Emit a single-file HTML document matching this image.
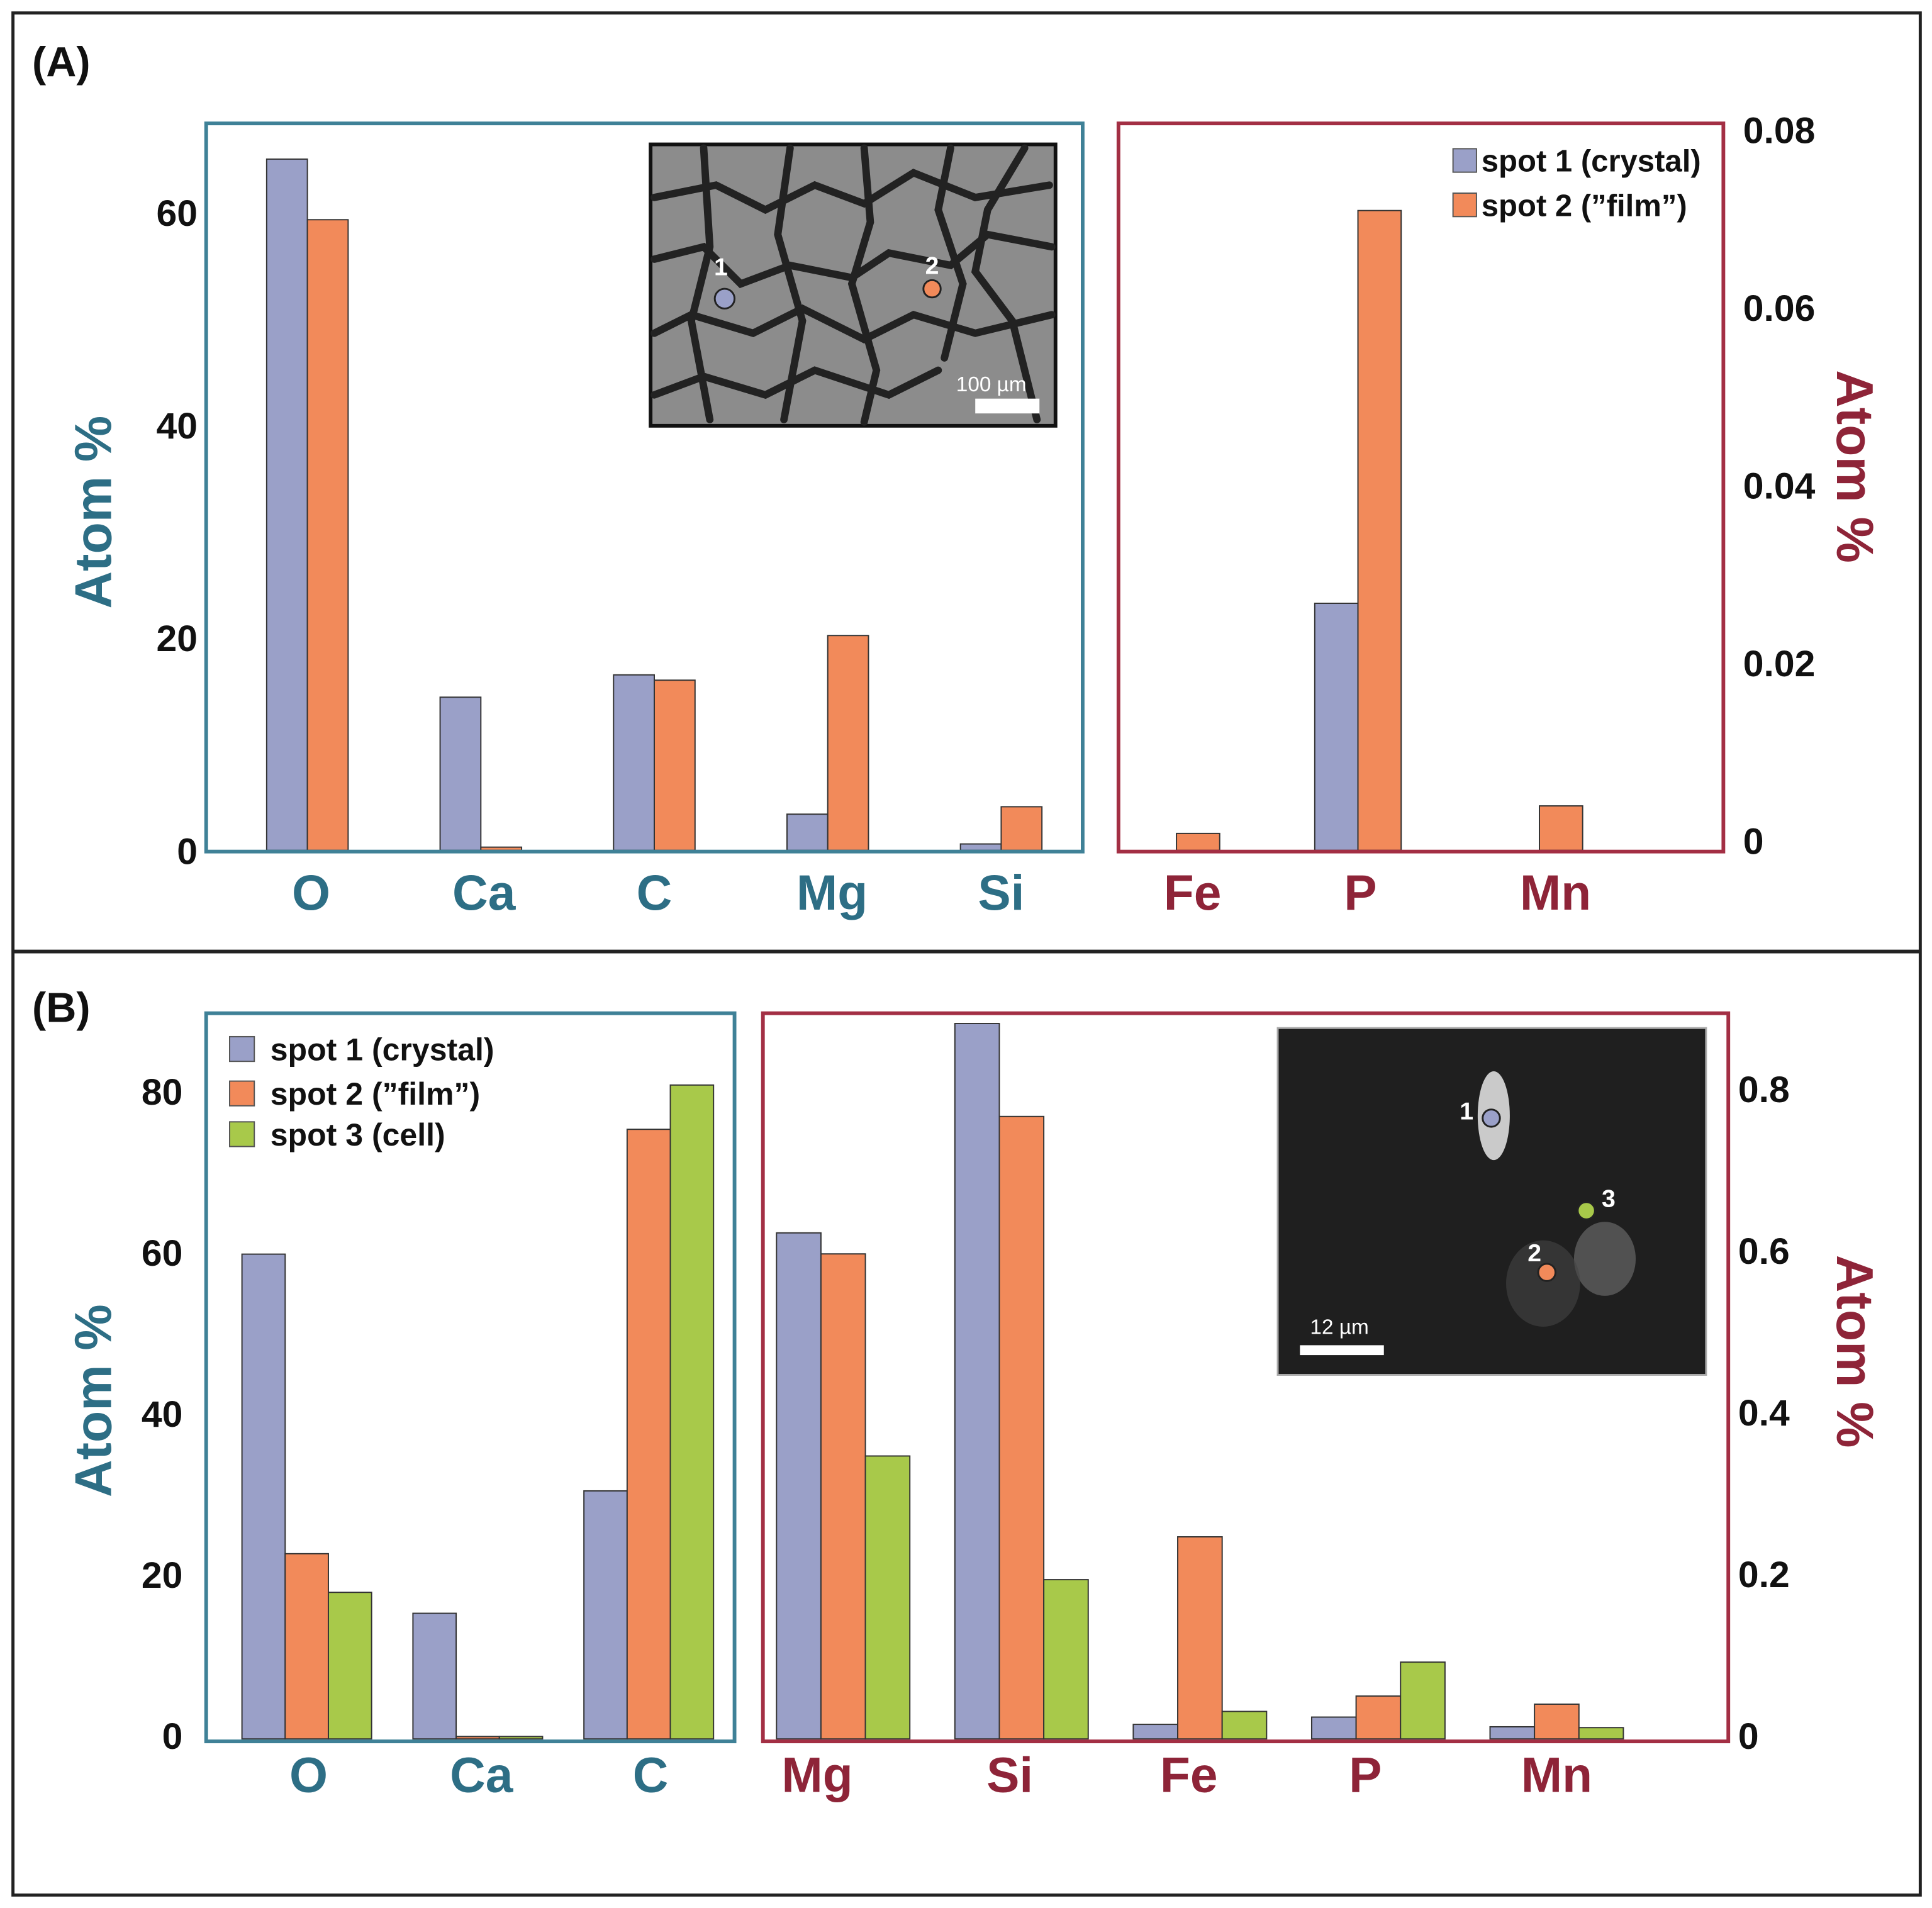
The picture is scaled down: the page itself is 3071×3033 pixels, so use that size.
<!DOCTYPE html>
<html><head><meta charset="utf-8"><style>
html,body{margin:0;padding:0;background:#fff;}
svg{display:block;font-family:"Liberation Sans",sans-serif;}
</style></head><body>
<svg id="fig" width="3071" height="3033" viewBox="0 0 1565 1546" preserveAspectRatio="none" xmlns="http://www.w3.org/2000/svg">
<rect x="0" y="0" width="1565" height="1546" fill="#fff"/>
<rect x="10.5" y="10.5" width="1545" height="1525" fill="none" stroke="#222" stroke-width="2.5"/>
<line x1="10" y1="771" x2="1556" y2="771" stroke="#222" stroke-width="3"/>
<text x="26" y="62" font-size="34" font-weight="bold" fill="#111">(A)</text>
<text x="26" y="828" font-size="34" font-weight="bold" fill="#111">(B)</text>

<!-- inset A -->
<g>
<rect x="527" y="117" width="328" height="228" fill="#8c8c8c" stroke="#111" stroke-width="3"/>
<g stroke="#222" stroke-width="6" fill="none" stroke-linecap="round">
<path d="M530 160 L580 150 L620 170 L660 150 L700 165 L740 140 L790 160 L850 150"/>
<path d="M530 210 L570 200 L600 230 L640 215 L690 225 L720 205 L770 215 L800 190 L852 200"/>
<path d="M530 270 L560 255 L610 270 L650 250 L700 275 L740 255 L790 270 L852 255"/>
<path d="M530 320 L570 305 L620 320 L660 300 L720 320 L760 300"/>
<path d="M570 120 L575 200 L560 260 L575 340"/>
<path d="M640 120 L630 190 L650 260 L635 340"/>
<path d="M700 120 L705 180 L690 230 L710 300 L700 342"/>
<path d="M770 120 L760 170 L780 230 L765 290"/>
<path d="M830 120 L800 170 L790 220 L820 260 L840 340"/>
</g>
<circle cx="587" cy="242" r="8" fill="#9aa0c8" stroke="#222" stroke-width="1.5"/>
<text x="584" y="223" font-size="20" font-weight="bold" fill="#fff" text-anchor="middle">1</text>
<circle cx="755" cy="234" r="7" fill="#f28a5a" stroke="#222" stroke-width="1.5"/>
<text x="755" y="222" font-size="20" font-weight="bold" fill="#fff" text-anchor="middle">2</text>
<rect x="790" y="323" width="52" height="12" fill="#fff"/>
<text x="803" y="317" font-size="17" fill="#fff" text-anchor="middle">100 µm</text>
</g>

<!-- inset B -->
<g>
<rect x="1035" y="833" width="347" height="281" fill="#1f1f1f" stroke="#aaa" stroke-width="1.5"/>
<ellipse cx="1210" cy="904" rx="13" ry="36" fill="#ddd" opacity="0.9"/>
<ellipse cx="1300" cy="1020" rx="25" ry="30" fill="#666" opacity="0.7"/>
<ellipse cx="1250" cy="1040" rx="30" ry="35" fill="#444" opacity="0.6"/>
<circle cx="1208" cy="906" r="7" fill="#9aa0c8" stroke="#222" stroke-width="1.5"/>
<text x="1188" y="907" font-size="20" font-weight="bold" fill="#fff" text-anchor="middle">1</text>
<circle cx="1285" cy="981" r="7" fill="#a8c94a" stroke="#222" stroke-width="1.5"/>
<text x="1303" y="978" font-size="20" font-weight="bold" fill="#fff" text-anchor="middle">3</text>
<circle cx="1253" cy="1031" r="7" fill="#f28a5a" stroke="#222" stroke-width="1.5"/>
<text x="1243" y="1022" font-size="20" font-weight="bold" fill="#fff" text-anchor="middle">2</text>
<rect x="1053" y="1090" width="68" height="8" fill="#fff"/>
<text x="1085" y="1081" font-size="17" fill="#fff" text-anchor="middle">12 µm</text>
</g>
<g id="dyn"></g>
</svg>
<script>
// Panel A data
const aLeftCats = ["O","Ca","C","Mg","Si"];
const aLeftSpot1 = [65.0, 14.4, 16.5, 3.4, 0.6];
const aLeftSpot2 = [59.3, 0.3, 16.0, 20.2, 4.1];
const aLeftTicks = [0, 20, 40, 60];
const aRightCats = ["Fe","P","Mn"];
const aRightSpot1 = [0, 0.0278, 0];
const aRightSpot2 = [0.0019, 0.072, 0.005];
const aRightTicks = [0, 0.02, 0.04, 0.06, 0.08];
const aRightTickLabels = ["0","0.02","0.04","0.06","0.08"];
// Panel B data
const bLeftCats = ["O","Ca","C"];
const bLeftSpot1 = [60.2, 15.6, 30.8];
const bLeftSpot2 = [23.0, 0.3, 75.7];
const bLeftSpot3 = [18.2, 0.3, 81.2];
const bLeftTicks = [0, 20, 40, 60, 80];
const bRightCats = ["Mg","Si","Fe","P","Mn"];
const bRightSpot1 = [0.626, 0.885, 0.018, 0.027, 0.015];
const bRightSpot2 = [0.60, 0.77, 0.25, 0.053, 0.043];
const bRightSpot3 = [0.35, 0.197, 0.034, 0.095, 0.014];
const bRightTicks = [0, 0.2, 0.4, 0.6, 0.8];
const bRightTickLabels = ["0","0.2","0.4","0.6","0.8"];

const NS = "http://www.w3.org/2000/svg";
const root = document.getElementById("dyn");
const COLORS = ["#9aa0c8","#f28a5a","#a8c94a"];
const TEAL = "#2d6e85", MAROON = "#8e2438";
function mk(tag, attrs, parent){ const e=document.createElementNS(NS,tag); for(const k in attrs) e.setAttribute(k,attrs[k]); (parent||root).appendChild(e); return e; }
function lin(d0,d1,r0,r1){ return v => r0 + (v-d0)/(d1-d0)*(r1-r0); }

function bars(cats, series, x0, spacing, bw, yScale, base, prefix){
  cats.forEach((c,i)=>{
    const n=series.length;
    series.forEach((s,j)=>{
      const v=s[i]; if(v<=0) return;
      const x=x0+i*spacing-(n*bw)/2+j*bw;
      const y=yScale(v);
      const r=mk("rect",{x:x,y:y,width:bw,height:base-y,fill:COLORS[j],stroke:"#333","stroke-width":1});
      
      
    });
  });
}
function catLabels(cats, xs, y, color, prefix){
  cats.forEach((c,i)=>{
    const t=mk("text",{x:xs[i],y:y,"font-size":40,"font-weight":"bold",fill:color,"text-anchor":"middle"});
    t.textContent=c;
    
    
  });
}
function ticks(vals, labels, yScale, x, anchor, prefix){
  vals.forEach((v,i)=>{
    const t=mk("text",{x:x,y:yScale(v)+11,"font-size":30,"font-weight":"bold",fill:"#111","text-anchor":anchor});
    t.textContent=labels[i];
    
    
  });
}
function box(x,y,w,h,color,name){
  const r=mk("rect",{x:x,y:y,width:w,height:h,fill:"none",stroke:color,"stroke-width":3});
  
  
}
function axisTitle(x,y,rot,color,name){
  const t=mk("text",{x:x,y:y,"font-size":42,"font-weight":"bold",fill:color,"text-anchor":"middle",transform:`rotate(${rot} ${x} ${y})`});
  t.textContent="Atom %";
  
  
}
function legend(items, x, ys, fs, sq, prefix){
  items.forEach((s,i)=>{
    const r=mk("rect",{x:x,y:ys[i]-sq/2,width:sq,height:sq,fill:COLORS[i],stroke:"#555","stroke-width":1});
    
    
    const t=mk("text",{x:x+sq+(prefix==="a"?4:13),y:ys[i]+fs*0.36,"font-size":fs,"font-weight":"bold",fill:"#111"});
    t.textContent=s;
    
    
  });
}

// Panel A
const aBase=689;
const aYL=lin(0,60,aBase,172);
const aYR=lin(0,0.08,aBase,113);
bars(aLeftCats,[aLeftSpot1,aLeftSpot2],249,140.5,33,aYL,aBase,"a-left");
bars(aRightCats,[aRightSpot1,aRightSpot2],953,147,35,aYR,aBase,"a-right");
box(167,100,710,590,"#3f8197","a-left-plot-frame");
box(906,100,490,590,"#a32f44","a-right-plot-frame");
ticks(aLeftTicks,aLeftTicks.map(String),aYL,160,"end","a-left-y");
ticks(aRightTicks,aRightTickLabels,v=>aYR(v)-8,1412,"start","a-right-y");
catLabels(aLeftCats,[252,392,530,674,811],737,TEAL,"a");
catLabels(aRightCats,[966,1102,1260],737,MAROON,"a");
axisTitle(90,415,-90,TEAL,"a-left-y-axis-title");
axisTitle(1488,378,90,MAROON,"a-right-y-axis-title");
legend(["spot 1 (crystal)","spot 2 (\u201dfilm\u201d)"],1177,[130,166],25,19,"a");

// Panel B
const bBase=1409;
const bYL=lin(0,80,bBase,887);
const bYR=lin(0,0.8,bBase,885);
bars(bLeftCats,[bLeftSpot1,bLeftSpot2,bLeftSpot3],248.5,138.5,35,bYL,bBase,"b-left");
bars(bRightCats,[bRightSpot1,bRightSpot2,bRightSpot3],683,144.5,36,bYR,bBase,"b-right");
box(167,821,428,590,"#3f8197","b-left-plot-frame");
box(618,821,782,590,"#a32f44","b-right-plot-frame");
ticks(bLeftTicks,bLeftTicks.map(String),v=>bYL(v)-3,148,"end","b-left-y");
ticks(bRightTicks,bRightTickLabels,v=>bYR(v)-3,1408,"start","b-right-y");
catLabels(bLeftCats,[250,390,527],1452,TEAL,"b");
catLabels(bRightCats,[662,818,963,1106,1261],1452,MAROON,"b");
axisTitle(90,1135,-90,TEAL,"b-left-y-axis-title");
axisTitle(1488,1095,90,MAROON,"b-right-y-axis-title");
legend(["spot 1 (crystal)","spot 2 (\u201dfilm\u201d)","spot 3 (cell)"],186,[850,886,919],25.5,20,"b");
</script>
</body></html>
